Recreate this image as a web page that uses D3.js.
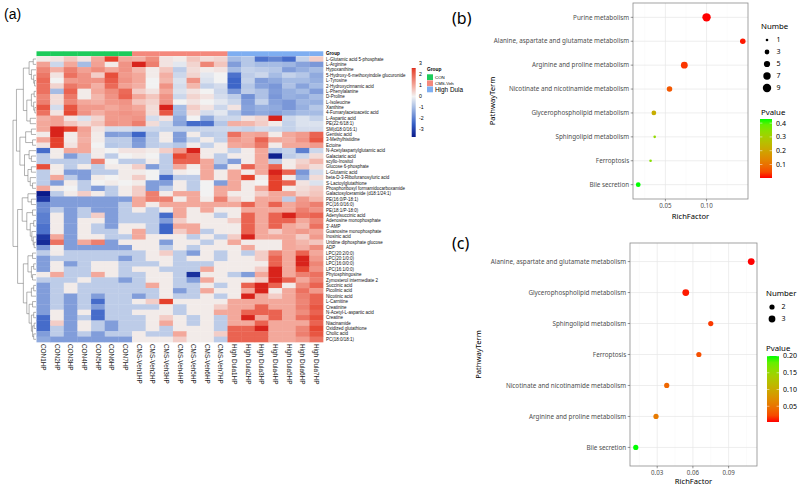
<!DOCTYPE html>
<html>
<head>
<meta charset="utf-8">
<script src="https://cdn.jsdelivr.net/npm/d3@7"></script>
<style>
  body { margin: 0; background: #fff; }
</style>
</head>
<body>
<svg id="fig" width="800" height="486"></svg>
<script>
// ---------- panel (a) data ----------
const metabolites = [
  "L-Glutamic acid 5-phosphate", "L-Arginine", "Hypoxanthine", "5-Hydroxy-6-methoxyindole glucuronide",
  "L-Tyrosine", "2-Hydroxycinnamic acid", "L-Phenylalanine", "D-Proline", "L-Isoleucine", "Xanthine",
  "4-Fumarylacetoacetic acid", "L-Aspartic acid", "PE(22:6/18:1)", "SM(d18:0/16:1)", "Gentisic acid",
  "3-Methylhistidine", "Ectoine", "N-Acetylaspartylglutamic acid", "Galactaric acid", "scyllo-Inositol",
  "Glucose 6-phosphate", "L-Glutamic acid", "beta-D-3-Ribofuranosyluric acid", "S-Lactoylglutathione",
  "Phosphoribosyl formamidocarboxamide", "Galactosylceramide (d18:1/24:1)", "PE(16:0/P-18:1)",
  "PC(16:0/16:0)", "PE(18:1/P-18:0)", "Adenylsuccinic acid", "Adenosine monophosphate", "3'-AMP",
  "Guanosine monophosphate", "Inosinic acid", "Uridine diphosphate glucose", "ADP", "LPC(20:2/0:0)",
  "LPC(20:1/0:0)", "LPC(16:0/0:0)", "LPC(16:1/0:0)", "Phytosphingosine", "Zymosterol intermediate 2",
  "Succinic acid", "Picolinic acid", "Nicotinic acid", "L-Carnitine", "Creatinine",
  "N-Acetyl-L-aspartic acid", "Creatine", "Niacinamide", "Oxidized glutathione", "Cholic acid",
  "PC(18:0/18:1)"
];

const samples = [
  "CON1HP", "CON2HP", "CON3HP", "CON4HP", "CON5HP", "CON6HP", "CON7HP",
  "CMS-Veh1HP", "CMS-Veh2HP", "CMS-Veh3HP", "CMS-Veh4HP", "CMS-Veh5HP", "CMS-Veh6HP", "CMS-Veh7HP",
  "High Dula1HP", "High Dula2HP", "High Dula3HP", "High Dula4HP", "High Dula5HP", "High Dula6HP", "High Dula7HP"
];
const sampleGroups = [
  "CON", "CON", "CON", "CON", "CON", "CON", "CON",
  "CMS-Veh", "CMS-Veh", "CMS-Veh", "CMS-Veh", "CMS-Veh", "CMS-Veh", "CMS-Veh",
  "High Dula", "High Dula", "High Dula", "High Dula", "High Dula", "High Dula", "High Dula"
];
const groupNames = ["CON", "CMS-Veh", "High Dula"];
const heatTicks = [3, 2, 1, 0, -1, -2, -3];

// z-scores, one row per metabolite, one column per sample
const heatValues = [
  [0.1, 0.2, 0.6, 0.2, 1.0, 2.5, 1.0, 0.9, 1.4, 0.2, 0.1, 0.6, 0.3, 0.4, -1.0, -0.8, -2.2, -1.9, -2.3, -0.6, 0.5],
  [1.1, -0.5, 1.0, -1.0, 1.1, 0.1, 1.3, 2.6, 1.6, 0.2, -0.2, 0.4, 1.5, 0.6, -1.5, -0.8, -1.0, -1.0, -1.1, -1.4, -1.6],
  [1.5, 0.9, 1.6, 1.1, 1.4, 1.0, 1.3, 0.8, 0.1, 0.6, -0.7, 0.3, 0.1, 0.2, -1.0, -0.6, -0.7, -0.8, -1.5, -1.2, -1.0],
  [1.7, 0.2, 1.8, 1.3, 0.5, 2.3, 1.2, 1.0, 0.1, 0.9, -0.5, 0.4, -0.2, 0.0, -2.2, -0.7, -0.5, -1.0, -0.6, -0.8, -1.3],
  [1.9, 0.0, 1.2, 1.3, 1.3, 2.1, 1.3, 1.0, 0.0, 0.8, -0.3, 1.3, -0.3, 0.0, -2.4, -0.6, -1.5, -1.3, -1.0, -1.0, -1.2],
  [1.8, 0.4, 1.7, 1.4, 0.9, 1.9, 1.1, 0.9, 0.0, 1.3, -0.4, 0.8, -0.6, -0.4, -2.4, -0.8, -1.4, -1.6, -0.9, -1.4, -1.0],
  [1.8, -1.0, 2.0, 0.1, 1.0, 1.4, 1.9, 0.5, 0.2, 1.0, -0.3, 0.2, 0.0, -0.5, -1.6, -0.7, -0.9, -1.5, -1.2, -1.0, -1.5],
  [1.5, 0.3, 1.7, 0.1, 0.8, 1.3, 2.0, 1.0, 0.6, 1.3, -0.5, 0.4, 0.2, -0.4, -0.7, -1.7, -0.9, -1.6, -1.2, -1.3, -1.0],
  [1.6, 0.3, 1.5, 1.0, 0.9, 1.2, 1.3, 0.6, 0.4, 1.3, 0.0, 0.2, 0.0, -0.2, -0.5, -1.5, -0.6, -1.4, -1.6, -1.1, -1.2],
  [2.2, -0.4, 2.2, 1.2, 1.2, 1.0, 1.2, 1.0, 0.3, 2.6, -1.0, 0.5, 0.2, -0.5, 0.2, -1.4, -1.2, -1.3, -1.6, -1.2, -0.8],
  [1.8, 0.2, 2.4, 1.3, 0.9, 1.2, 1.3, 1.2, 0.3, 2.2, -1.0, 0.3, -0.4, -0.2, -0.8, -1.5, -1.3, -1.4, -1.2, -1.0, -1.0],
  [0.9, 1.1, 0.2, -0.3, 0.4, 1.2, 1.2, 1.3, -0.4, 0.2, -1.3, 0.0, -1.3, -0.5, -0.5, 0.2, 0.4, 2.6, -0.5, -0.3, -0.6],
  [1.0, 1.1, 0.6, 0.3, 0.6, 1.3, 1.2, 1.6, 0.3, -0.5, -1.4, -2.3, -2.2, -0.8, 0.9, 0.8, 0.5, 0.1, -0.6, -0.3, -0.3],
  [1.0, 2.6, 2.5, 1.1, 0.2, -0.4, -0.4, -0.5, -0.5, -0.6, -0.6, -0.6, -0.5, -0.5, -0.5, -0.6, -0.4, -0.5, -0.6, -0.4, -0.4],
  [0.1, 2.6, 0.1, 1.0, 0.1, -1.5, -1.4, -2.4, -0.8, 0.1, -1.5, 0.1, -0.7, -0.6, 1.8, 1.0, 1.1, 0.1, 1.0, 1.2, 2.0],
  [1.0, 2.5, 0.1, 0.9, 0.1, -0.7, -0.7, -1.6, -0.7, 0.1, -1.5, -0.6, 0.1, -0.6, 1.2, 1.0, 2.0, 1.0, 0.9, 1.3, 2.2],
  [0.2, 2.5, 0.2, 1.0, 0.0, -0.8, -0.7, -1.5, -0.7, -0.6, -0.8, 0.1, -0.6, 0.1, 1.0, 1.1, 1.7, 0.1, 1.0, 1.0, 1.2],
  [-2.3, 0.1, 1.0, 1.0, 0.1, 0.0, 0.2, 0.2, 0.1, 0.5, 1.2, 2.6, 0.1, 0.1, -0.6, 0.1, 1.0, -0.8, -0.6, -2.0, -0.5],
  [-0.7, 0.1, -1.5, -0.7, 0.1, -0.7, 0.0, 0.1, 0.0, -0.7, 2.4, 2.0, 0.1, -0.7, 0.1, 0.1, 1.0, -3.6, -0.7, -0.5, 0.3],
  [-0.7, -0.7, -0.7, -0.7, 1.6, 0.0, -0.7, -0.7, 0.1, -0.7, 2.0, 2.0, 1.0, -0.7, -1.5, 0.1, 1.0, -0.7, 0.1, 0.4, 0.8],
  [2.3, 0.1, -0.7, 0.1, -0.7, 0.1, 0.1, 0.5, -1.5, -0.7, 1.0, 0.1, 1.0, -1.5, 0.1, 2.0, 1.0, 2.0, 0.1, 0.6, 0.3],
  [-0.7, 0.1, -1.5, -1.5, -0.7, -0.7, 0.1, 0.1, 0.0, -0.7, 0.1, 0.0, 1.0, 0.1, 1.0, 0.1, 1.0, 2.6, 2.0, -1.6, -0.4],
  [-0.7, 1.0, -0.7, -1.5, 0.1, 0.0, 0.1, 0.5, 0.0, -2.3, -0.7, -0.7, 1.0, 0.1, 1.0, 2.5, 0.1, 2.5, 0.1, -1.2, 0.3],
  [-0.7, -1.5, 0.1, -0.7, 0.0, 0.1, 0.0, 0.1, -1.5, -1.5, 0.1, -0.7, 0.0, -1.5, 1.0, 0.1, 0.0, 2.5, 2.0, 0.2, -0.3],
  [1.0, 0.1, 0.0, -0.7, -1.5, -0.7, 0.1, 0.5, -1.5, -0.7, 0.1, -0.7, 0.0, 1.0, 1.0, 0.1, 1.0, 2.5, 0.1, 0.3, 0.5],
  [-3.7, -0.7, 0.1, 0.5, 0.1, -0.7, 0.1, 0.5, 1.6, 0.1, 1.0, 1.0, 0.0, 1.0, 0.1, 0.1, 0.5, 1.0, 1.0, 0.4, 0.6],
  [-3.2, -1.5, -1.5, -1.5, -1.5, -1.5, -1.5, 1.0, 1.6, 1.6, 0.1, 1.0, 0.1, 1.6, 0.5, 0.1, 1.0, 1.0, -0.7, 1.2, 0.8],
  [-1.8, -1.5, -1.5, -1.5, -1.5, -1.5, -0.7, 1.0, 0.1, 1.0, 1.0, 1.0, 1.0, 1.0, 1.0, 2.0, 1.0, 2.0, 1.0, 1.3, 1.6],
  [-1.8, -0.7, -1.5, -0.7, -1.5, -1.5, -0.7, 0.1, -0.7, 0.1, 1.0, 0.1, 1.0, 0.1, 0.1, 1.0, 1.0, 1.0, 1.0, 1.6, 1.3],
  [-2.0, 0.1, -1.5, -0.7, 0.5, -1.5, -0.7, -0.7, -0.7, -2.3, 1.0, 0.1, 0.1, -0.7, 0.1, 2.0, 1.0, 2.0, 2.6, 1.8, 2.0],
  [-2.0, 0.1, -1.5, 0.1, 0.1, -1.5, -0.7, -0.7, -0.7, -1.5, 0.5, 0.1, 0.1, 0.1, 0.5, 2.0, 1.0, 2.0, 2.0, 1.0, 1.5],
  [-2.2, 0.1, -1.5, 0.1, -0.7, -1.5, 0.1, 0.1, -0.7, -2.4, 1.0, 1.0, 0.1, 0.1, 0.1, 2.0, 1.0, 2.0, 1.0, 0.8, 1.8],
  [-2.2, 0.1, -1.5, 0.1, -0.7, -0.7, 0.1, 1.0, -0.7, -2.4, 0.5, 1.0, -0.7, 0.1, 0.1, 2.0, 1.0, 0.5, 1.0, 1.2, 1.0],
  [-3.2, 1.0, -1.5, 0.1, 0.1, -0.7, -0.7, 1.0, 0.1, 0.1, 0.1, -0.7, 0.1, -0.7, 0.5, 2.6, 1.0, 1.0, 1.0, 0.5, 1.2],
  [-3.4, 1.8, -1.5, 1.0, 1.6, -1.5, 0.1, 0.1, 0.1, -1.5, 0.1, 0.1, -0.7, 0.1, 1.0, 0.1, 0.1, 0.1, 1.0, 0.8, 0.6],
  [-1.6, 0.1, -1.5, -1.5, -1.5, -1.5, -1.5, 0.1, 0.1, -0.7, 0.1, -0.7, 0.1, 0.1, 0.1, 1.0, 0.1, 0.1, 1.0, 0.9, 1.4],
  [-0.7, 0.1, -0.7, -0.7, -0.7, -0.7, -0.7, -0.7, 0.1, 0.5, -0.7, -1.5, 0.1, -0.7, 0.1, -0.7, 0.5, 1.6, 1.0, 2.0, 1.0],
  [-1.5, -0.7, -0.7, -0.7, -0.7, -0.7, -1.5, -0.7, 0.1, 0.1, -0.7, 0.1, 0.1, -0.7, 0.1, 0.1, 0.5, 2.0, 1.0, 2.6, 1.2],
  [-1.5, 0.1, -1.5, -0.7, 0.1, 0.1, -0.7, -0.7, -0.7, 0.1, -0.7, -0.7, -0.7, 0.1, 0.1, 0.1, 0.1, 2.0, 1.0, 2.6, 1.5],
  [-1.5, 0.1, -0.7, -0.7, 0.1, 0.1, -0.7, 0.1, 0.1, -0.7, -0.7, -0.7, 1.0, 0.1, 0.1, 0.1, 0.5, 2.6, 1.0, 2.4, 1.3],
  [0.1, 1.0, -0.7, -0.7, 1.0, 0.1, -0.7, -0.7, 0.1, 0.1, -0.7, -3.3, 0.1, 0.1, -0.7, -1.5, 1.0, 2.6, 1.0, 1.6, 1.8],
  [-0.7, -0.7, -0.7, 0.1, -0.7, -0.7, -1.5, -0.7, 0.1, 0.1, -0.7, -1.5, 1.0, 0.1, 0.1, 0.1, 0.5, 2.6, 2.0, 1.0, 1.6],
  [-1.5, -0.7, 0.1, -0.7, -0.7, -0.7, -0.7, -0.7, 1.0, 0.1, -0.7, -0.7, 0.1, -0.7, 0.1, 2.0, 2.6, 2.0, 0.1, 1.4, 2.0],
  [-1.5, -0.7, 0.1, -0.7, -0.7, -0.7, -0.7, -0.7, -0.7, 0.1, -1.5, -0.7, 1.0, 0.1, 0.1, 1.0, 2.6, 0.1, 1.0, 1.8, 1.2],
  [-1.5, -0.7, -1.5, -0.7, -1.5, -0.7, -0.7, -1.5, -0.7, 0.1, -0.7, -0.7, 0.1, -0.7, 0.1, 2.6, 1.0, 0.5, 1.0, 1.6, 2.0],
  [-1.5, -0.7, -1.5, -0.7, -2.3, -0.7, -0.7, 0.1, 0.5, 2.5, 0.1, 0.1, 0.1, 0.1, 1.0, 1.0, 1.0, 1.0, 1.0, 1.5, 2.0],
  [-1.5, -0.7, -1.5, -0.7, -1.5, -0.7, -0.7, -0.7, -0.7, 0.1, -0.7, 0.1, 0.1, 0.5, 1.0, 1.0, 2.0, 1.0, 1.0, 1.6, 2.2],
  [-1.5, 0.1, -1.5, 0.1, -2.3, -0.7, -0.7, 0.1, 0.1, 0.1, -0.7, 0.1, 0.1, 1.0, 1.0, 2.0, 2.0, 2.0, 1.0, 1.4, 2.0],
  [-2.3, 0.1, -1.5, -0.7, -2.3, -0.7, -0.7, -0.7, 0.1, 0.5, 0.1, -0.7, 0.1, -0.7, 1.0, 2.6, 1.0, 2.0, 1.0, 1.8, 2.3],
  [-2.3, 0.5, -1.5, 0.1, -0.7, -1.5, -0.7, -0.7, 0.1, 1.0, 0.1, -0.7, 0.1, -0.7, 1.0, 1.0, 2.0, 1.0, 1.0, 1.0, 2.0],
  [-2.3, -0.7, -1.5, 0.1, -0.7, -1.5, -0.7, -0.7, 0.1, -0.7, 0.1, 0.1, 0.1, -0.7, 2.0, 2.0, 2.6, 1.0, 1.0, 1.5, 2.4],
  [-1.5, -0.7, -1.5, -0.7, -1.5, -0.7, -0.7, 0.1, -0.7, -0.7, 1.0, 0.1, 0.1, 0.5, 2.0, 2.0, 2.0, 1.0, 1.0, 1.6, 2.2],
  [-1.3, -1.5, -1.5, -1.5, -1.5, -1.5, -1.5, 0.1, 0.1, 0.1, 0.5, 0.1, 0.1, -0.7, 2.0, 2.0, 2.0, 1.0, 1.0, 1.2, 1.8]
];

// row dendrogram: [mergeHeight, left, right], leaves are row indices
const rowTree = [1.0,
  [0.85,
    [0.55,
      [0.3, [0.12, 0, 1], [0.2, 2, [0.1, 3, [0.06, 4, 5]]]],
      [0.4, [0.2, [0.08, 6, 7], [0.1, 8, [0.05, 9, 10]]], [0.25, 11, 12]]],
    [0.7,
      [0.45, [0.2, 13, 14], [0.15, 15, 16]],
      [0.5, [0.3, 17, [0.2, 18, 19]], [0.35, [0.2, 20, 21], [0.25, 22, [0.15, 23, 24]]]]]],
  [0.8,
    [0.6, [0.35, 25, [0.2, 26, 27]],
      [0.4, [0.15, 28, 29], [0.25, [0.1, 30, 31], [0.18, 32, [0.12, 33, [0.08, 34, 35]]]]]],
    [0.55,
      [0.35, [0.15, 36, 37], [0.2, [0.1, 38, 39], [0.15, 40, 41]]],
      [0.4, [0.2, [0.1, 42, 43], 44],
        [0.3, [0.15, 45, 46], [0.2, [0.1, 47, 48], [0.15, [0.08, 49, 50], [0.1, 51, 52]]]]]]]
];

// ---------- panel (b) data ----------
const pathwaysB = [
  "Purine metabolism", "Alanine, aspartate and glutamate metabolism", "Arginine and proline metabolism",
  "Nicotinate and nicotinamide metabolism", "Glycerophospholipid metabolism", "Sphingolipid metabolism",
  "Ferroptosis", "Bile secretion"
];
const richB = [0.100, 0.144, 0.073, 0.055, 0.036, 0.037, 0.032, 0.017];
const numberB = [9, 4, 6, 4, 3, 1, 1, 3];
const pvalueB = [0.002, 0.008, 0.025, 0.06, 0.22, 0.33, 0.35, 0.43];
const xTicksB = [0.05, 0.10];
const sizeTicksB = [1, 3, 5, 7, 9];
const pTicksB = [0.1, 0.2, 0.3, 0.4];

// ---------- panel (c) data ----------
const pathwaysC = [
  "Alanine, aspartate and glutamate metabolism", "Glycerophospholipid metabolism", "Sphingolipid metabolism",
  "Ferroptosis", "Nicotinate and nicotinamide metabolism", "Arginine and proline metabolism", "Bile secretion"
];
const richC = [0.109, 0.054, 0.075, 0.065, 0.038, 0.029, 0.012];
const numberC = [3, 3, 2, 2, 2, 2, 2];
const pvalueC = [0.003, 0.006, 0.015, 0.025, 0.04, 0.055, 0.2];
const xTicksC = [0.03, 0.06, 0.09];
const sizeTicksC = [2, 3];
const pTicksC = [0.05, 0.10, 0.15, 0.20];

// ---------- drawing ----------
const svg = d3.select("#fig");
const font = "'Liberation Sans', Arial, sans-serif";
const gfont = "'Noto Sans', 'DejaVu Sans', sans-serif";

svg.append("rect").attr("width", 800).attr("height", 486).attr("fill", "#fff");

// ===== (a) heatmap =====
const hx = d3.scaleBand().domain(samples).range([36.5, 323]);
const hy = d3.scaleBand().domain(d3.range(metabolites.length)).range([56.3, 342]);
const heatMin = d3.min(heatValues, (r) => d3.min(r));
const heatMax = d3.max(heatValues, (r) => d3.max(r));
const heatColor = d3.scaleLinear()
  .domain([heatMin, -2.5, -1, 0, 1, 2.5, heatMax])
  .range(["#0a1a8a", "#3760c6", "#a6bce4", "#f2f2f2", "#f3a89b", "#e5412c", "#d8231b"])
  .clamp(true);
const groupColor = d3.scaleOrdinal(groupNames, ["#1dcb5b", "#f4887c", "#7eaef1"]);

svg.append("text").attr("x", 4).attr("y", 19).attr("font-family", font)
  .attr("font-size", 14).text("(a)");

// group annotation bar
svg.append("g").selectAll("rect").data(samples).join("rect")
  .attr("x", (d) => hx(d)).attr("y", 51.3)
  .attr("width", hx.bandwidth() + 0.3).attr("height", 4.8)
  .attr("fill", (d, i) => groupColor(sampleGroups[i]));

// cells
const cells = heatValues.flatMap((row, r) => row.map((v, c) => ({ r, c, v })));
svg.append("g").selectAll("rect").data(cells).join("rect")
  .attr("x", (d) => hx(samples[d.c])).attr("y", (d) => hy(d.r))
  .attr("width", hx.bandwidth() + 0.35).attr("height", hy.bandwidth() + 0.35)
  .attr("fill", (d) => heatColor(d.v));

// row labels
svg.append("text").attr("x", 326).attr("y", 53.7).attr("dy", "0.35em")
  .attr("font-family", font).attr("font-size", 4.6).attr("font-weight", 700).text("Group");
svg.append("g").selectAll("text").data(metabolites).join("text")
  .attr("x", 326).attr("y", (d, i) => hy(i) + hy.bandwidth() / 2).attr("dy", "0.35em")
  .attr("font-family", font).attr("font-size", 4.5).attr("fill", "#111").text((d) => d);

// column labels
svg.append("g").selectAll("text").data(samples).join("text")
  .attr("transform", (d) => `translate(${hx(d) + hx.bandwidth() / 2},344) rotate(90)`)
  .attr("dy", "0.35em").attr("font-family", font).attr("font-size", 6.4)
  .attr("fill", "#222").text((d) => d);

// dendrogram
const treeX = d3.scaleLinear().domain([0, 1]).range([36, 13]);
const tree = d3.hierarchy(rowTree, (d) => (Array.isArray(d) ? d.slice(1) : null));
tree.eachAfter((n) => {
  if (n.children) {
    n.px = treeX(n.data[0]);
    n.py = (n.children[0].py + n.children[1].py) / 2;
  } else {
    n.px = treeX(0);
    n.py = hy(n.data) + hy.bandwidth() / 2;
  }
});
svg.append("g").selectAll("path").data(tree.descendants().filter((n) => n.children)).join("path")
  .attr("d", (n) => {
    const [a, b] = n.children;
    return `M${a.px},${a.py}H${n.px}V${b.py}H${b.px}`;
  })
  .attr("fill", "none").attr("stroke", "#666").attr("stroke-width", 0.5);

// colour key
const keyY = d3.scaleLinear().domain([heatMin, heatMax]).range([137, 68]);
const defs = svg.append("defs");
const heatGrad = defs.append("linearGradient").attr("id", "heatGrad")
  .attr("x1", 0).attr("y1", 1).attr("x2", 0).attr("y2", 0);
heatGrad.selectAll("stop").data(heatColor.domain()).join("stop")
  .attr("offset", (d) => (d - heatMin) / (heatMax - heatMin))
  .attr("stop-color", (d) => heatColor(d));
svg.append("rect").attr("x", 411.7).attr("y", 68).attr("width", 4).attr("height", 69)
  .attr("fill", "url(#heatGrad)");
svg.append("g").selectAll("text").data(heatTicks).join("text")
  .attr("x", 419).attr("y", (d) => keyY(d)).attr("dy", "0.35em")
  .attr("font-family", font).attr("font-size", 5.2).text((d) => d);

// group legend
const gLeg = svg.append("g");
gLeg.append("text").attr("x", 427).attr("y", 70.5).attr("font-family", font)
  .attr("font-size", 4.8).attr("font-weight", 700).text("Group");
gLeg.selectAll("rect").data(groupNames).join("rect")
  .attr("x", 427).attr("y", (d, i) => 74.3 + i * 6.1).attr("width", 6).attr("height", 5.8)
  .attr("fill", (d) => groupColor(d));
gLeg.selectAll("text.g").data(groupNames).join("text").attr("class", "g")
  .attr("x", 435).attr("y", (d, i) => 77.2 + i * 6.1).attr("dy", "0.35em")
  .attr("font-family", font).attr("font-size", (d) => (d === "High Dula" ? 6.4 : 4.4))
  .text((d) => d);

// ===== bubble panels =====
function bubblePanel(o) {
  const g = svg.append("g");
  const ext = d3.extent(o.rich);
  const pad = (ext[1] - ext[0]) * 0.05;
  const x = d3.scaleLinear().domain([ext[0] - pad, ext[1] + pad]).range([o.left, o.right]);
  const y = d3.scalePoint().domain(o.pathways).range([o.top, o.bottom]).padding(0.6);
  const pExt = d3.extent(o.pvalue);
  const interp = d3.interpolateLab("#ff0000", "#00ff00");
  const color = d3.scaleSequential(interp).domain(pExt);
  const size = d3.scaleRadial().domain(o.sizeDomain).range(o.sizeRange);

  g.append("text").attr("x", 452).attr("y", o.labelY).attr("font-family", gfont)
    .attr("font-size", 16).text(o.label);

  // grid
  const step = o.xTicks[1] - o.xTicks[0];
  const minor = d3.range(o.xTicks[0] - step / 2, o.xTicks[o.xTicks.length - 1] + step, step)
    .filter((v) => v > x.domain()[0] && v < x.domain()[1]);
  g.append("g").selectAll("line").data(minor).join("line")
    .attr("x1", (d) => x(d)).attr("x2", (d) => x(d)).attr("y1", o.top).attr("y2", o.bottom)
    .attr("stroke", "#f4f4f4").attr("stroke-width", 0.4);
  g.append("g").selectAll("line").data(o.xTicks).join("line")
    .attr("x1", (d) => x(d)).attr("x2", (d) => x(d)).attr("y1", o.top).attr("y2", o.bottom)
    .attr("stroke", "#e6e6e6").attr("stroke-width", 0.7);
  g.append("g").selectAll("line").data(o.pathways).join("line")
    .attr("x1", o.left).attr("x2", o.right).attr("y1", (d) => y(d)).attr("y2", (d) => y(d))
    .attr("stroke", "#e6e6e6").attr("stroke-width", 0.7);

  // points
  g.append("g").selectAll("circle").data(o.pathways).join("circle")
    .attr("cx", (d, i) => x(o.rich[i])).attr("cy", (d) => y(d))
    .attr("r", (d, i) => size(o.number[i]))
    .attr("fill", (d, i) => color(o.pvalue[i]));

  g.append("rect").attr("x", o.left).attr("y", o.top)
    .attr("width", o.right - o.left).attr("height", o.bottom - o.top)
    .attr("fill", "none").attr("stroke", "#8c8c8c").attr("stroke-width", 0.8);

  // y axis
  g.append("g").selectAll("line").data(o.pathways).join("line")
    .attr("x1", o.left - 2.3).attr("x2", o.left).attr("y1", (d) => y(d)).attr("y2", (d) => y(d))
    .attr("stroke", "#333").attr("stroke-width", 0.5);
  g.append("g").selectAll("text").data(o.pathways).join("text")
    .attr("x", o.left - 3.8).attr("y", (d) => y(d)).attr("dy", "0.35em")
    .attr("text-anchor", "end").attr("font-family", gfont).attr("font-size", 6.3)
    .attr("fill", "#4d4d4d").text((d) => d);
  // x axis
  g.append("g").selectAll("line").data(o.xTicks).join("line")
    .attr("x1", (d) => x(d)).attr("x2", (d) => x(d)).attr("y1", o.bottom).attr("y2", o.bottom + 2.3)
    .attr("stroke", "#333").attr("stroke-width", 0.5);
  g.append("g").selectAll("text").data(o.xTicks).join("text")
    .attr("x", (d) => x(d)).attr("y", o.bottom + 9).attr("text-anchor", "middle")
    .attr("font-family", gfont).attr("font-size", 6.2).attr("fill", "#4d4d4d")
    .text((d) => o.tickFormat(d));
  g.append("text").attr("x", (o.left + o.right) / 2).attr("y", o.xTitleY)
    .attr("text-anchor", "middle").attr("font-family", gfont).attr("font-size", 7.6)
    .text("RichFactor");
  g.append("text").attr("transform", `translate(${o.yTitleX},${(o.top + o.bottom) / 2}) rotate(-90)`)
    .attr("text-anchor", "middle").attr("font-family", gfont).attr("font-size", 7.6)
    .text("PathwayTerm");

  // size legend
  g.append("text").attr("x", o.legX).attr("y", o.sizeTitleY).attr("font-family", gfont)
    .attr("font-size", 7.8).text(o.sizeTitle);
  g.append("g").selectAll("circle").data(o.sizeTicks).join("circle")
    .attr("cx", o.legX + 6).attr("cy", (d, i) => o.sizeTitleY + 11 + i * 12)
    .attr("r", (d) => size(d)).attr("fill", "#000");
  g.append("g").selectAll("text").data(o.sizeTicks).join("text")
    .attr("x", o.legX + 15.5).attr("y", (d, i) => o.sizeTitleY + 11 + i * 12).attr("dy", "0.35em")
    .attr("font-family", gfont).attr("font-size", 7).text((d) => d);

  // p-value colourbar
  g.append("text").attr("x", o.legX).attr("y", o.pTitleY).attr("font-family", gfont)
    .attr("font-size", 7.8).text("Pvalue");
  const py = d3.scaleLinear().domain(pExt).range([o.barBottom, o.barTop]);
  const gradId = "pg" + o.label.replace(/\W/g, "");
  const grad = defs.append("linearGradient").attr("id", gradId)
    .attr("x1", 0).attr("y1", 1).attr("x2", 0).attr("y2", 0);
  grad.selectAll("stop").data(d3.range(0, 1.0001, 0.1)).join("stop")
    .attr("offset", (d) => d).attr("stop-color", (d) => interp(d));
  g.append("rect").attr("x", o.barX).attr("y", o.barTop).attr("width", 12)
    .attr("height", o.barBottom - o.barTop).attr("fill", `url(#${gradId})`);
  g.append("g").selectAll("line").data(o.pTicks).join("line")
    .attr("x1", o.barX).attr("x2", o.barX + 2.4).attr("y1", (d) => py(d)).attr("y2", (d) => py(d))
    .attr("stroke", "#fff").attr("stroke-width", 0.5);
  g.append("g").selectAll("line.r").data(o.pTicks).join("line").attr("class", "r")
    .attr("x1", o.barX + 9.6).attr("x2", o.barX + 12).attr("y1", (d) => py(d)).attr("y2", (d) => py(d))
    .attr("stroke", "#fff").attr("stroke-width", 0.5);
  g.append("g").selectAll("text").data(o.pTicks).join("text")
    .attr("x", o.barX + 16).attr("y", (d) => py(d)).attr("dy", "0.35em")
    .attr("font-family", gfont).attr("font-size", 7).text((d) => o.pFormat(d));
}

bubblePanel({
  label: "(b)", labelY: 24,
  pathways: pathwaysB, rich: richB, number: numberB, pvalue: pvalueB,
  left: 633, right: 748, top: 3, bottom: 199,
  xTicks: xTicksB, tickFormat: d3.format(".2f"),
  xTitleY: 218.5, yTitleX: 495,
  sizeDomain: [1, 9], sizeRange: [1.3, 4.2], sizeTicks: sizeTicksB, sizeTitle: "Numbe",
  legX: 761, sizeTitleY: 29,
  pTitleY: 115, barX: 760, barTop: 119, barBottom: 178, pTicks: pTicksB, pFormat: d3.format(".1f")
});

bubblePanel({
  label: "(c)", labelY: 249,
  pathways: pathwaysC, rich: richC, number: numberC, pvalue: pvalueC,
  left: 630, right: 757, top: 243, bottom: 466,
  xTicks: xTicksC, tickFormat: d3.format(".2f"),
  xTitleY: 484, yTitleX: 481,
  sizeDomain: [2, 3], sizeRange: [2.6, 3.4], sizeTicks: sizeTicksC, sizeTitle: "Number",
  legX: 766, sizeTitleY: 296,
  pTitleY: 351, barX: 767, barTop: 356, barBottom: 422, pTicks: pTicksC, pFormat: d3.format(".2f")
});
</script>
</body>
</html>
